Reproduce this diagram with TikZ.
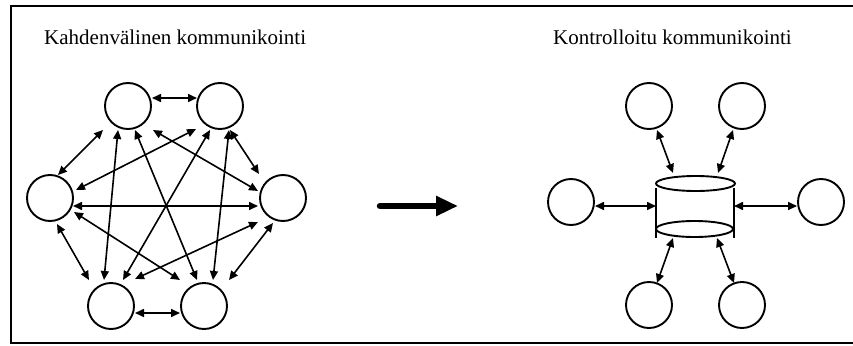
\documentclass[tikz,border=0pt]{standalone}
\usepackage{fontspec}
\setmainfont{Liberation Serif}
\usetikzlibrary{arrows.meta}

\begin{document}
\begin{tikzpicture}[x=1pt,y=-1pt,
  peer/.style={circle,draw,line width=1.9pt,minimum size=46pt,inner sep=0pt,fill=white},
  link/.style={line width=1.6pt,
    {Triangle[length=9pt,width=8pt]}-{Triangle[length=9pt,width=8pt]}},
  title/.style={font=\fontsize{21}{24}\selectfont,anchor=base west,inner sep=0pt},
  frameline/.style={line width=2.4pt},
  hubline/.style={line width=1.9pt}]
\useasboundingbox (0,0) rectangle (853,345);

% outer frame (open on the right)
\draw[frameline] (853,6) -- (11,6) -- (11,343) -- (853,343);

% titles
\node[title] (t1) at (44,45) {Kahdenvälinen kommunikointi};
\node[title] (t2) at (553,45) {Kontrolloitu kommunikointi};

% ---- peer-to-peer mesh ----
\node[peer] (A) at (128,106) {};
\node[peer] (B) at (220,106) {};
\node[peer] (C) at (50,198) {};
\node[peer] (D) at (283,198) {};
\node[peer] (E) at (111,306) {};
\node[peer] (F) at (204,306) {};

\draw[link] ([shift={(24,-8)}]A.center) -- ([shift={(-23,-8)}]B.center);
\draw[link] ([shift={(24,7)}]E.center) -- ([shift={(-24,7)}]F.center);
\draw[link] ([shift={(23,8)}]C.center) -- ([shift={(-25,8)}]D.center);
\draw[link] ([shift={(-25,24)}]A.center) -- ([shift={(8,-23)}]C.center);
\draw[link] ([shift={(10,24)}]B.center) -- ([shift={(-24,-24)}]D.center);
\draw[link] ([shift={(7,26)}]C.center) -- ([shift={(-22,-26)}]E.center);
\draw[link] ([shift={(-10,25)}]D.center) -- ([shift={(25,-26)}]F.center);
\draw[link] ([shift={(-10,24)}]A.center) -- ([shift={(-7,-26)}]E.center);
\draw[link] ([shift={(7,24)}]A.center) -- ([shift={(-7,-26)}]F.center);
\draw[link] ([shift={(25,24)}]A.center) -- ([shift={(-25,-7)}]D.center);
\draw[link] ([shift={(-24,23)}]B.center) -- ([shift={(26,-8)}]C.center);
\draw[link] ([shift={(-10,24)}]B.center) -- ([shift={(12,-26)}]E.center);
\draw[link] ([shift={(9,24)}]B.center) -- ([shift={(9,-26)}]F.center);
\draw[link] ([shift={(24,14)}]C.center) -- ([shift={(-24,-26)}]F.center);
\draw[link] ([shift={(-25,24)}]D.center) -- ([shift={(24,-27)}]E.center);

% ---- transition arrow ----
\coordinate (go1) at (380,206);
\coordinate (go2) at (458,206);
\draw[line width=6.5pt,line cap=round,-{Triangle[length=22pt,width=19pt]}] (go1) -- (go2);

% ---- controlled communication: central store ----
\coordinate (hub) at (695,206);
\draw[hubline] ([shift={(-39,-18)}]hub) -- ([shift={(-39,32)}]hub);
\draw[hubline] ([shift={(39,-18)}]hub) -- ([shift={(39,32)}]hub);
\draw[hubline] ([shift={(0.5,-22.5)}]hub) ellipse [x radius=39.5pt, y radius=7.5pt];
\draw[hubline] ([shift={(-0.5,23)}]hub) ellipse [x radius=38.5pt, y radius=8pt];

\node[peer] (P1) at (649,106) {};
\node[peer] (P2) at (742,106) {};
\node[peer] (P3) at (571,202) {};
\node[peer] (P4) at (821,202) {};
\node[peer] (P5) at (649,305) {};
\node[peer] (P6) at (742,305) {};

\draw[link] ([shift={(8,24)}]P1.center) -- ([shift={(-22,-33)}]hub);
\draw[link] ([shift={(-9,24)}]P2.center) -- ([shift={(23,-33)}]hub);
\draw[link] ([shift={(24,4)}]P3.center) -- ([shift={(-39,0)}]hub);
\draw[link] ([shift={(-24,4)}]P4.center) -- ([shift={(39,0)}]hub);
\draw[link] ([shift={(8,-22)}]P5.center) -- ([shift={(-22,32)}]hub);
\draw[link] ([shift={(-8,-22)}]P6.center) -- ([shift={(22,32)}]hub);
\end{tikzpicture}
\end{document}
